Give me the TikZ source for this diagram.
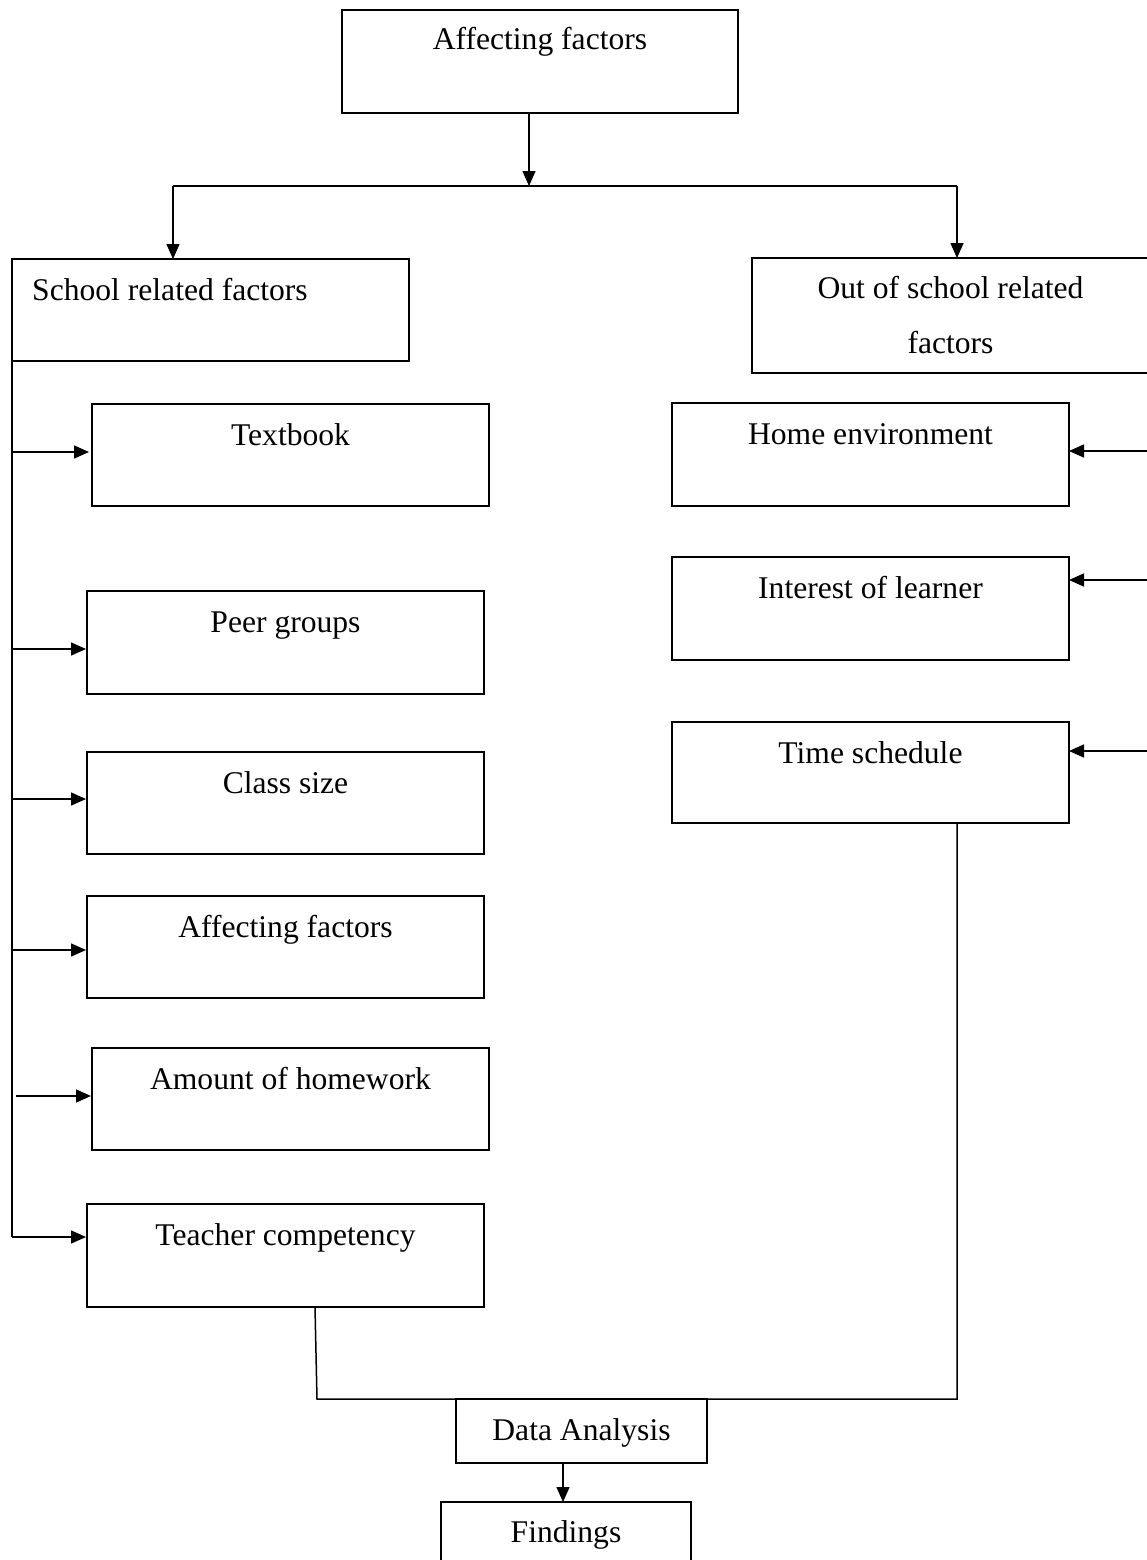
\documentclass[tikz,border=0pt]{standalone}
\usepackage{fontspec}
\setmainfont{Liberation Serif}
\usetikzlibrary{arrows.meta,calc}
\begin{document}
\begin{tikzpicture}[x=1pt,y=-1pt,
  box/.style={draw, line width=1.9pt, inner sep=0pt, outer sep=0pt, anchor=north west},
  txt/.style={anchor=base, inner sep=0pt, font=\fontsize{31.6}{38}\selectfont},
  conn/.style={line width=1.5pt},
  arr/.style={line width=1.5pt, -{Triangle[length=15pt,width=13pt]}}]
\useasboundingbox (0,0) rectangle (1147,1560);
\clip (0,0) rectangle (1147,1560);
\fill[white] (0,0) rectangle (1147,1560);
% boxes
\node[box, minimum width=396pt, minimum height=103pt] (af) at (342,10) {};
\node[box, minimum width=397pt, minimum height=102pt] (sr) at (12,259) {};
\node[box, minimum width=397pt, minimum height=115pt] (os) at (752,258) {};
\node[box, minimum width=397pt, minimum height=102pt] (tb) at (92,404) {};
\node[box, minimum width=397pt, minimum height=103pt] (pg) at (87,591) {};
\node[box, minimum width=397pt, minimum height=102pt] (cs) at (87,752) {};
\node[box, minimum width=397pt, minimum height=102pt] (af2) at (87,896) {};
\node[box, minimum width=397pt, minimum height=102pt] (ah) at (92,1048) {};
\node[box, minimum width=397pt, minimum height=103pt] (tc) at (87,1204) {};
\node[box, minimum width=397pt, minimum height=103pt] (he) at (672,403) {};
\node[box, minimum width=397pt, minimum height=103pt] (il) at (672,557) {};
\node[box, minimum width=397pt, minimum height=101pt] (ts) at (672,722) {};
\node[box, minimum width=251pt, minimum height=64pt] (da) at (456,1399) {};
\node[box, minimum width=250pt, minimum height=80pt] (fd) at (441,1502) {};
% texts
\node[txt] (aft) at ([yshift=-40pt]af.north) {Affecting factors};
\node[txt, anchor=base west] (srt) at (32,300) {School related factors};
\node[txt] (ost1) at ([yshift=-40pt]os.north) {Out of school related};
\node[txt] (ost2) at ([yshift=-95pt]os.north) {factors};
\node[txt] (tbt) at ([yshift=-41pt]tb.north) {Textbook};
\node[txt] (pgt) at ([yshift=-41pt]pg.north) {Peer groups};
\node[txt] (cst) at ([yshift=-41pt]cs.north) {Class size};
\node[txt] (af2t) at ([yshift=-41pt]af2.north) {Affecting factors};
\node[txt] (aht) at ([yshift=-41pt]ah.north) {Amount of homework};
\node[txt] (tct) at ([yshift=-41pt]tc.north) {Teacher competency};
\node[txt] (het) at ([yshift=-41pt]he.north) {Home environment};
\node[txt] (ilt) at ([yshift=-41pt]il.north) {Interest of learner};
\node[txt] (tst) at ([yshift=-41pt]ts.north) {Time schedule};
\node[txt] (dat) at ([yshift=-41pt]da.north) {Data Analysis};
\node[txt] (fdt) at ([yshift=-40pt]fd.north) {Findings};
% top connectors
\coordinate (j) at (529,186);
\coordinate (jl) at (173,186);
\coordinate (jr) at (957,186);
\draw[arr] (j |- af.south) -- (j);
\draw[conn] (jl) -- (jr);
\draw[arr] (jl) -- (jl |- sr.north);
\draw[arr] (jr) -- (jr |- os.north);
% left bus
\coordinate (b1) at (12,452);
\coordinate (b2) at (12,649);
\coordinate (b3) at (12,799);
\coordinate (b4) at (12,950);
\coordinate (b5) at (16,1096);
\coordinate (b6) at (12,1237);
\draw[conn] (sr.south west) -- (b6);
\draw[arr, shorten >=3pt] (b1) -- (b1 -| tb.west);
\draw[arr, shorten >=1pt] (b2) -- (b2 -| pg.west);
\draw[arr, shorten >=1pt] (b3) -- (b3 -| cs.west);
\draw[arr, shorten >=1pt] (b4) -- (b4 -| af2.west);
\draw[arr, shorten >=1pt] (b5) -- (b5 -| ah.west);
\draw[arr, shorten >=1pt] (b6) -- (b6 -| tc.west);
% right arrows
\coordinate (r1) at (1147,451);
\coordinate (r2) at (1147,580);
\coordinate (r3) at (1147,751);
\draw[arr] (r1) -- (r1 -| he.east);
\draw[arr] (r2) -- (r2 -| il.east);
\draw[arr] (r3) -- (r3 -| ts.east);
% bottom join
\coordinate (tcx) at (315,0);
\coordinate (m1) at (317,1399);
\coordinate (m2) at (957,1399);
\draw[conn] (tc.south -| tcx) -- (m1) -- (m2) -- (m2 |- ts.south);
\coordinate (dx) at (563,0);
\draw[arr] (da.south -| dx) -- (dx |- fd.north);
\end{tikzpicture}
\end{document}
